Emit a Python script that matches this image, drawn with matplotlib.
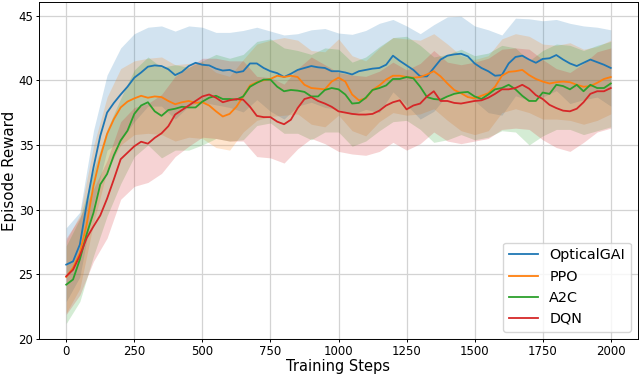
import numpy as np
import matplotlib
matplotlib.use("Agg")
import matplotlib.pyplot as plt

# training steps
steps = np.arange(0, 2001, 25)
band_steps = np.arange(0, 2001, 50)

# mean episode reward (read every 25 steps)
optical = [25.75, 26.0, 27.3, 30.4, 33.25, 35.7, 37.5, 38.25, 38.9, 39.5,
           40.2, 40.6, 41.05, 41.15, 41.1, 40.85, 40.4, 40.65, 41.1, 41.35,
           41.2, 41.15, 40.9, 40.75, 40.8, 40.6, 40.7, 41.3, 41.3, 40.95,
           40.7, 40.55, 40.25, 40.5, 40.8, 40.95, 41.1, 41.0, 40.95, 40.7,
           40.7, 40.6, 40.45, 40.7, 40.8, 40.9, 40.95, 41.2, 41.9, 41.5,
           41.15, 40.8, 40.3, 40.3, 40.95, 41.6, 41.9, 42.0, 42.05, 41.85,
           41.3, 40.95, 40.7, 40.35, 40.4, 41.3, 41.8, 41.9, 41.6, 41.35,
           41.65, 41.7, 41.95, 41.6, 41.3, 41.1, 41.35, 41.6, 41.4, 41.2,
           40.95]
ppo = [24.8, 25.5, 26.65, 28.85, 31.85, 34.05, 35.85, 37.0, 37.9, 38.35,
       38.6, 38.8, 38.65, 38.75, 38.7, 38.4, 38.15, 38.3, 38.4, 38.25,
       38.3, 38.05, 37.6, 37.2, 37.4, 37.95, 38.75, 39.6, 39.85, 40.0,
       40.1, 40.35, 40.25, 40.35, 40.25, 39.65, 39.4, 39.35, 39.3, 39.9,
       40.2, 39.9, 38.9, 38.45, 38.6, 39.25, 39.6, 40.05, 40.35, 40.35,
       40.25, 40.2, 40.25, 40.45, 40.7, 40.3, 39.75, 39.25, 39.0, 38.7,
       38.6, 38.8, 39.0, 39.5, 40.35, 40.65, 40.7, 40.8, 40.4, 40.1,
       39.9, 39.75, 39.85, 39.9, 39.85, 39.65, 39.5, 39.55, 39.8, 40.1,
       40.25]
a2c = [24.2, 24.6, 26.15, 28.1, 29.75, 31.95, 32.75, 34.2, 35.35, 36.1,
       37.4, 38.05, 38.3, 37.6, 37.25, 37.7, 37.8, 37.95, 37.9, 37.9,
       38.35, 38.65, 38.8, 38.55, 38.55, 38.5, 38.75, 39.5, 39.8, 40.05,
       40.05, 39.5, 39.15, 39.25, 39.2, 39.1, 38.75, 38.75, 39.25, 39.4,
       39.3, 38.9, 38.2, 38.25, 38.65, 39.25, 39.4, 39.6, 40.1, 40.1,
       40.25, 40.15, 39.5, 38.7, 38.55, 38.5, 38.75, 38.95, 39.05, 39.1,
       38.75, 38.55, 38.9, 39.3, 39.4, 39.65, 39.3, 38.8, 38.4, 38.4,
       39.05, 38.95, 39.65, 39.55, 39.3, 39.65, 39.15, 39.65, 39.4, 39.4,
       39.75]
dqn = [24.85, 25.35, 26.45, 27.8, 28.7, 29.55, 30.85, 32.35, 33.9, 34.4,
       34.9, 35.25, 35.1, 35.55, 35.9, 36.45, 37.35, 37.7, 38.05, 38.4,
       38.75, 38.9, 38.65, 38.3, 38.45, 38.55, 38.5, 37.95, 37.25, 37.15,
       37.15, 36.8, 36.6, 36.95, 37.85, 38.55, 38.7, 38.4, 38.2, 37.95,
       37.6, 37.5, 37.4, 37.35, 37.35, 37.4, 37.65, 38.05, 38.3, 38.45,
       37.75, 38.05, 38.2, 38.75, 39.15, 38.4, 38.4, 38.25, 38.2, 38.3,
       38.4, 38.45, 38.65, 38.95, 39.3, 39.3, 39.4, 39.65, 39.35, 38.85,
       38.55, 38.1, 37.85, 37.65, 37.6, 37.8, 38.3, 38.95, 39.15, 39.15,
       39.4]

# shaded bands (read every 50 steps)
optical_hi = [28.6, 29.8, 36.1, 40.4, 42.5, 43.6, 44.1, 44.2, 43.8, 44.2,
              44.1, 43.7, 43.7, 43.85, 44.1, 43.8, 43.5, 43.6, 43.9, 44.0,
              43.65, 43.55, 43.85, 44.4, 44.7, 44.2, 43.6, 44.3, 44.9, 44.95,
              44.2, 43.9, 43.5, 44.8, 44.75, 44.6, 44.7, 44.4, 44.2, 44.1, 43.9]
optical_lo = [22.9, 24.8, 30.4, 34.6, 35.3, 36.8, 38.0, 38.0, 37.0, 38.0,
              38.3, 38.1, 37.9, 37.55, 38.5, 37.6, 37.0, 38.0, 38.3, 37.9,
              37.75, 37.35, 37.75, 37.5, 39.1, 38.1, 37.0, 37.6, 38.9, 39.15,
              38.4, 37.5, 37.3, 38.8, 38.45, 38.7, 39.2, 38.2, 38.5, 38.7, 38.0]
ppo_hi = [27.6, 29.6, 34.9, 38.7, 40.9, 41.5, 41.7, 41.8, 41.2, 41.3,
          41.4, 40.6, 40.3, 41.6, 42.8, 43.1, 43.3, 43.1, 42.3, 42.2,
          43.2, 41.9, 41.5, 42.5, 43.3, 43.2, 43.1, 43.6, 42.8, 41.9,
          41.6, 41.9, 43.2, 43.6, 43.4, 42.8, 42.7, 42.9, 42.4, 42.6, 43.1]
ppo_lo = [22.0, 23.9, 28.9, 33.0, 35.0, 35.8, 35.9, 35.8, 35.3, 35.6,
          35.5, 34.8, 34.6, 36.0, 36.9, 37.2, 37.3, 37.4, 36.6, 36.4,
          37.3, 36.1, 35.7, 36.8, 37.5, 37.3, 37.4, 37.8, 36.9, 36.1,
          35.8, 36.1, 37.5, 37.8, 37.5, 37.0, 37.0, 36.9, 36.6, 36.9, 37.4]
a2c_hi = [27.2, 29.3, 33.0, 36.2, 38.6, 40.8, 41.8, 41.0, 41.2, 41.0,
          41.5, 42.0, 41.7, 42.0, 43.0, 43.2, 42.5, 42.3, 42.0, 42.5,
          42.4, 41.4, 41.8, 42.6, 43.3, 43.4, 42.7, 41.8, 42.0, 42.4,
          41.9, 42.1, 42.7, 42.5, 41.5, 42.3, 42.8, 42.7, 42.3, 42.7, 43.0]
a2c_lo = [21.2, 22.9, 26.4, 29.5, 32.0, 34.1, 35.0, 34.0, 34.6, 34.6,
          35.0, 35.5, 35.3, 35.4, 36.5, 36.7, 35.9, 35.9, 35.4, 36.0,
          36.0, 34.9, 35.3, 36.1, 36.8, 36.9, 36.2, 35.2, 35.4, 35.8,
          35.4, 35.6, 36.1, 36.0, 35.0, 35.7, 36.2, 36.2, 35.8, 36.1, 36.4]
dqn_hi = [27.8, 29.4, 31.6, 33.8, 36.8, 37.9, 38.2, 38.9, 40.3, 41.0,
          41.7, 41.7, 41.5, 41.5, 40.3, 40.2, 39.7, 40.9, 41.8, 41.2,
          40.6, 40.4, 40.3, 40.7, 41.4, 40.8, 41.3, 42.3, 41.4, 41.2,
          41.4, 41.7, 42.4, 42.5, 42.4, 41.6, 40.9, 40.6, 41.3, 42.2, 42.5]
dqn_lo = [21.9, 23.4, 26.0, 27.8, 30.8, 31.8, 32.1, 32.8, 34.1, 34.9,
          35.6, 35.5, 35.3, 35.3, 34.1, 34.0, 33.6, 34.7, 35.5, 35.1,
          34.5, 34.3, 34.2, 34.5, 35.2, 34.6, 35.1, 36.0, 35.3, 35.1,
          35.3, 35.5, 36.2, 36.3, 36.2, 35.4, 34.8, 34.5, 35.2, 36.0, 36.3]

labels = ["OpticalGAI", "PPO", "A2C", "DQN"]
colors = ["tab:blue", "tab:orange", "tab:green", "tab:red"]
means = [optical, ppo, a2c, dqn]
highs = [optical_hi, ppo_hi, a2c_hi, dqn_hi]
lows = [optical_lo, ppo_lo, a2c_lo, dqn_lo]

fig = plt.figure(figsize=(6.4, 3.75), dpi=100)
# axes box in pixels: x 39..638, y 2..339
ax = fig.add_axes([39 / 640, 36 / 375, 599 / 640, 337 / 375])

for m, hi, lo, lab, c in zip(means, highs, lows, labels, colors):
    ax.plot(steps, m, color=c, linewidth=1.3, label=lab)
    ax.fill_between(band_steps, lo, hi, color=c, alpha=0.2, linewidth=0)

ax.set_xlim(-100, 2100)
ax.set_ylim(20, 46.05)
ax.set_xlabel("Training Steps", fontsize=10.5)
ax.set_ylabel("Episode Reward", fontsize=10.8)
ax.xaxis.set_label_coords(0.5, -0.058)
ax.yaxis.set_label_coords(-0.036, 0.5)
ax.tick_params(labelsize=8.5, length=2.5, pad=1.5, width=0.7)
for sp in ax.spines.values():
    sp.set_linewidth(0.7)
ax.grid(True, color="#d3d3d3", linewidth=0.9)
ax.set_axisbelow(True)
ax.legend(loc="lower right", fontsize=10.4)

fig.savefig("out.png", dpi=100)
